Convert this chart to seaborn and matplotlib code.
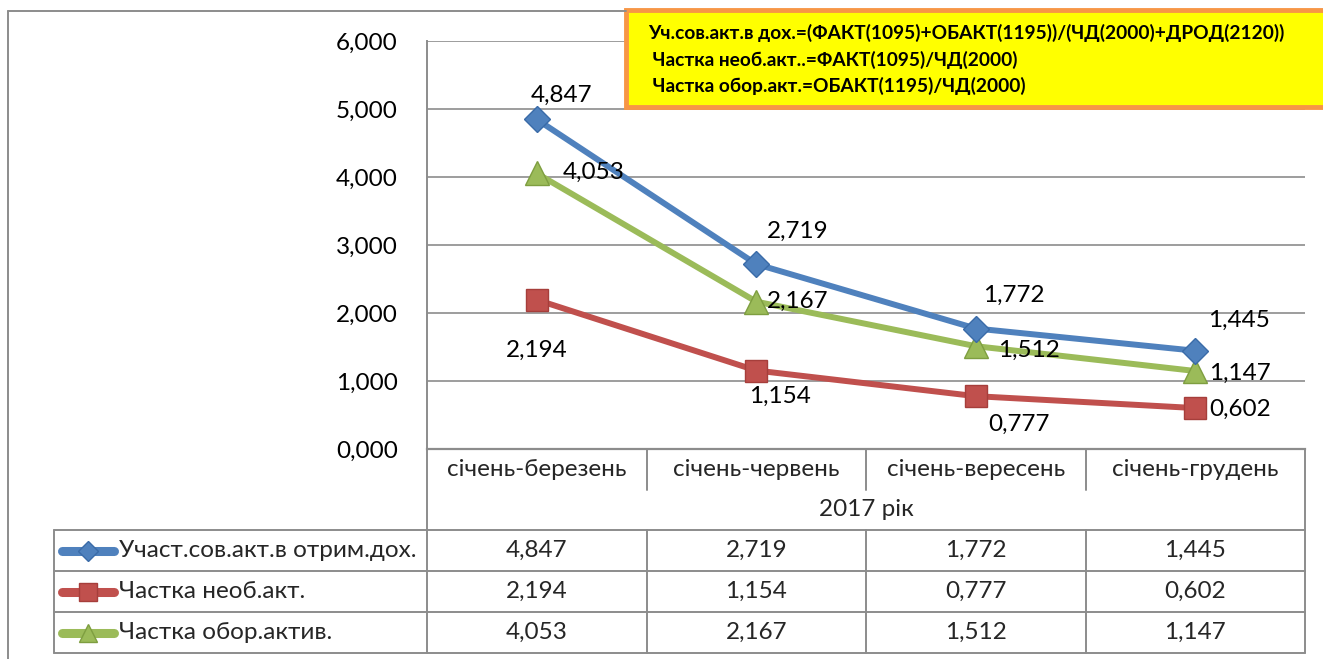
import numpy as np
import pandas as pd
import matplotlib
matplotlib.use('Agg')
import matplotlib.pyplot as plt
import matplotlib.transforms as mtransforms
from matplotlib.patches import Rectangle
from matplotlib.lines import Line2D
import seaborn as sns

# ---- data ----
periods = ['січень-березень', 'січень-червень', 'січень-вересень', 'січень-грудень']
year_label = '2017 рік'
series_names = ['Участ.сов.акт.в отрим.дох.', 'Частка необ.акт.', 'Частка обор.актив.']
uchast = [4.847, 2.719, 1.772, 1.445]
neob = [2.194, 1.154, 0.777, 0.602]
obor = [4.053, 2.167, 1.512, 1.147]
y_ticks = [0, 1, 2, 3, 4, 5, 6]
formula_lines = [
    'Уч.сов.акт.в дох.=(ФАКТ(1095)+ОБАКТ(1195))/(ЧД(2000)+ДРОД(2120))',
    ' Частка необ.акт..=ФАКТ(1095)/ЧД(2000)',
    ' Частка обор.акт.=ОБАКТ(1195)/ЧД(2000)',
]

# ---- style ----
colors = ['#4F81BD', '#C0504D', '#9BBB59']
edges = ['#3A6BA8', '#A63E3B', '#7E9E40']
markers = ['D', 's', '^']
msizes = [13, 16, 17]
# label offsets in px (dx right, dy down) per point
label_offsets = [
    [(25, -24), (41, -33), (38, -33), (44, -30)],
    [(0, 51), (24, 26), (43, 28), (45, 1)],
    [(57, -1), (41, 0), (53, 4), (45, 2)],
]
GRID = '#8C8C8C'
FS = 17.5

W, H = 1323, 659
sns.set_theme(style='white')
plt.rcParams['font.family'] = ['Lato', 'DejaVu Sans']


def fmt(v):
    return f'{v:.3f}'.replace('.', ',')


fig = plt.figure(figsize=(W / 100, H / 100), dpi=100)
fig.patch.set_facecolor('white')

ax = fig.add_axes([427 / W, 1 - 449 / H, 878 / W, 408 / H])
ax.set_facecolor('white')

all_series = [uchast, neob, obor]
x_idx = np.arange(len(periods))
for k, vals in enumerate(all_series):
    df = pd.DataFrame({'x': x_idx, 'y': vals})
    sns.lineplot(data=df, x='x', y='y', ax=ax, color=colors[k], linewidth=4.3,
                 marker=markers[k], markersize=msizes[k], markeredgecolor=edges[k],
                 markeredgewidth=1.0, legend=False, zorder=3 - k * 0.1)
    for i, v in enumerate(vals):
        dx, dy = label_offsets[k][i]
        ax.annotate(fmt(v), (i, v), xytext=(dx / 1.389, -dy / 1.389),
                    textcoords='offset points', ha='center', va='center',
                    fontsize=FS, color='black', zorder=5)

ax.set_xlim(-0.5, len(periods) - 0.5)
ax.set_ylim(0, 6)
ax.set_yticks(y_ticks)
ax.set_yticklabels([fmt(t) for t in y_ticks], fontsize=FS, color='black')
ax.tick_params(axis='y', length=0, pad=21)
ax.set_xticks([])
ax.set_xlabel('')
ax.set_ylabel('')
ax.yaxis.grid(True, color=GRID, linewidth=1.2)
ax.set_axisbelow(True)
for s in ['top', 'right']:
    ax.spines[s].set_visible(False)
ax.spines['left'].set_color(GRID)
ax.spines['left'].set_linewidth(1.4)
ax.spines['bottom'].set_color(GRID)
ax.spines['bottom'].set_linewidth(1.6)

# ---- overlay in pixel coords ----
ov = fig.add_axes([0, 0, 1, 1])
ov.set_xlim(0, W)
ov.set_ylim(H, 0)
ov.axis('off')
ov.patch.set_alpha(0)
trans = mtransforms.blended_transform_factory(ax.transData, ov.transData)

lk = dict(color=GRID, linewidth=1.4)
# outer frame
ov.plot([8, 8], [11, H], **lk)
ov.plot([8, 626], [11, 11], **lk)

# data table
ov.plot([427, 427], [449, 653], **lk)
ov.plot([1305, 1305], [449, 653], **lk)
rows_y = [530, 571, 612, 653]
for ry in rows_y:
    ov.plot([54, 1305], [ry, ry], **lk)
ov.plot([54, 54], [530, 653], **lk)
for b in np.arange(len(periods) - 1) + 0.5:
    ov.plot([b, b], [449, 490], transform=trans, **lk)
    ov.plot([b, b], [530, 653], transform=trans, **lk)

for i, p in enumerate(periods):
    ov.text(i, 470, p, transform=trans, ha='center', va='center', fontsize=FS)
ov.text((len(periods) - 1) / 2, 510, year_label, transform=trans,
        ha='center', va='center', fontsize=FS)

for k, vals in enumerate(all_series):
    cy = (rows_y[k] + rows_y[k + 1]) / 2
    ov.add_line(Line2D([62, 114], [cy, cy], color=colors[k], linewidth=6.5,
                       solid_capstyle='round'))
    ov.add_line(Line2D([88], [cy], color=colors[k], marker=markers[k],
                       markersize=msizes[k] * 0.8, markeredgecolor=edges[k]))
    ov.text(119, cy, series_names[k], ha='left', va='center', fontsize=FS)
    for i, v in enumerate(vals):
        ov.text(i, cy, fmt(v), transform=trans, ha='center', va='center', fontsize=FS)

# formula box
ov.add_patch(Rectangle((626, 10), 700, 97, facecolor='#FFFF00',
                       edgecolor='#F79646', linewidth=3.5))
for j, line in enumerate(formula_lines):
    ov.text(648, 33 + j * 26.5, line, ha='left', va='center', fontsize=13.8,
            fontweight='bold', color='black')

fig.savefig('out.png', dpi=100, facecolor='white')
